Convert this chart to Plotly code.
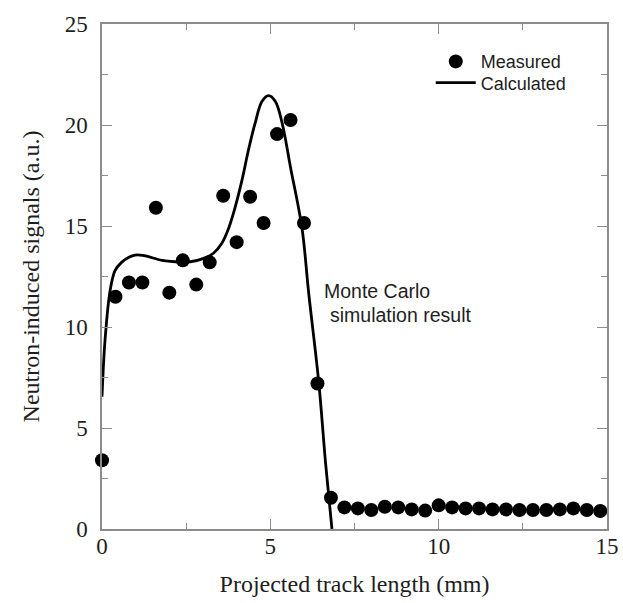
import plotly.graph_objects as go

# Measured data (x in mm, signal in a.u.)
meas_x = [0.0, 0.4, 0.8, 1.2, 1.6, 2.0, 2.4, 2.8, 3.2, 3.6, 4.0, 4.4, 4.8, 5.2, 5.6, 6.0, 6.4, 6.8,
          7.2, 7.6, 8.0, 8.4, 8.8, 9.2, 9.6, 10.0, 10.4, 10.8, 11.2, 11.6, 12.0, 12.4, 12.8, 13.2,
          13.6, 14.0, 14.4, 14.8]
meas_y = [3.4, 11.5, 12.2, 12.2, 15.9, 11.7, 13.3, 12.1, 13.2, 16.5, 14.2, 16.45, 15.15, 19.55, 20.25,
          15.15, 7.2, 1.55,
          1.07, 1.02, 0.94, 1.1, 1.07, 0.97, 0.91, 1.17, 1.07, 1.02, 1.02, 0.97, 0.97, 0.94, 0.94, 0.94,
          0.97, 1.02, 0.94, 0.89]

# Calculated (Monte Carlo) curve
calc_x = [0.0, 0.09, 0.24, 0.39, 0.58, 0.8, 0.98, 1.2, 1.38, 1.78, 2.17, 2.62, 3.02, 3.31, 3.56,
          3.76, 3.96, 4.16, 4.35, 4.55, 4.75, 4.95, 5.15, 5.35, 5.6, 5.94, 6.14, 6.44, 6.64, 6.83]
calc_y = [6.55, 9.35, 11.8, 12.8, 13.2, 13.45, 13.56, 13.55, 13.48, 13.3, 13.23, 13.23, 13.4, 13.65,
          14.14, 14.88, 15.96, 17.28, 18.76, 20.1, 21.16, 21.45, 21.16, 20.1, 17.9, 14.9, 11.67,
          7.24, 3.27, 0.0]

x_ticks = [0, 5, 10, 15]
y_ticks = [0, 5, 10, 15, 20, 25]

serif = "Liberation Serif, Times New Roman, serif"
sans = "Liberation Sans, Arial, sans-serif"
axis_col = "#8c8c8c"
txt_col = "#1e1e1e"

fig = go.Figure()
fig.add_trace(go.Scatter(
    x=meas_x, y=meas_y, mode="markers", name="Measured", legend="legend",
    marker=dict(color="black", size=14), cliponaxis=False))
fig.add_trace(go.Scatter(
    x=calc_x, y=calc_y, mode="lines", name="Calculated", legend="legend2",
    line=dict(color="black", width=2.8, shape="spline", smoothing=1.0)))

fig.add_annotation(x=6.52, y=11.8, xref="x", yref="y", text="Monte Carlo", showarrow=False,
                   xanchor="left", yanchor="middle", font=dict(family=sans, size=19.5, color=txt_col))
fig.add_annotation(x=6.70, y=10.6, xref="x", yref="y", text="simulation result", showarrow=False,
                   xanchor="left", yanchor="middle", font=dict(family=sans, size=19.5, color=txt_col))

axis_common = dict(
    showline=True, linecolor=axis_col, linewidth=1.5, mirror="ticks",
    ticks="inside", ticklen=10, tickwidth=1.2, tickcolor=axis_col,
    showgrid=False, zeroline=False, automargin=False,
    tickfont=dict(family=serif, size=23, color=txt_col),
)

fig.update_xaxes(range=[0, 15], tickvals=x_ticks, ticktext=[str(v) for v in x_ticks],
                 minor=dict(ticks="inside", dtick=2.5, ticklen=6, tickcolor=axis_col, showgrid=False),
                 title=dict(text="Projected track length (mm)", font=dict(family=serif, size=24, color=txt_col),
                            standoff=17),
                 ticklabelstandoff=-4,
                 **axis_common)
fig.update_yaxes(range=[0, 25], tickvals=y_ticks, ticktext=[str(v) for v in y_ticks],
                 minor=dict(ticks="inside", dtick=2.5, ticklen=6, tickcolor=axis_col, showgrid=False),
                 title=dict(text="Neutron-induced signals (a.u.)", font=dict(family=serif, size=24, color=txt_col),
                            standoff=18),
                 ticklabelstandoff=8,
                 **axis_common)

legend_common = dict(xanchor="left", yanchor="top", bgcolor="rgba(0,0,0,0)",
                     font=dict(family=sans, size=18, color=txt_col), itemwidth=40)
fig.update_layout(
    width=623, height=603,
    margin=dict(l=102, r=16, t=24, b=74),
    paper_bgcolor="white", plot_bgcolor="white",
    showlegend=True,
    legend=dict(x=0.651, y=0.962, **legend_common),
    legend2=dict(x=0.651, y=0.920, **legend_common),
)

fig.write_html("out.html")
